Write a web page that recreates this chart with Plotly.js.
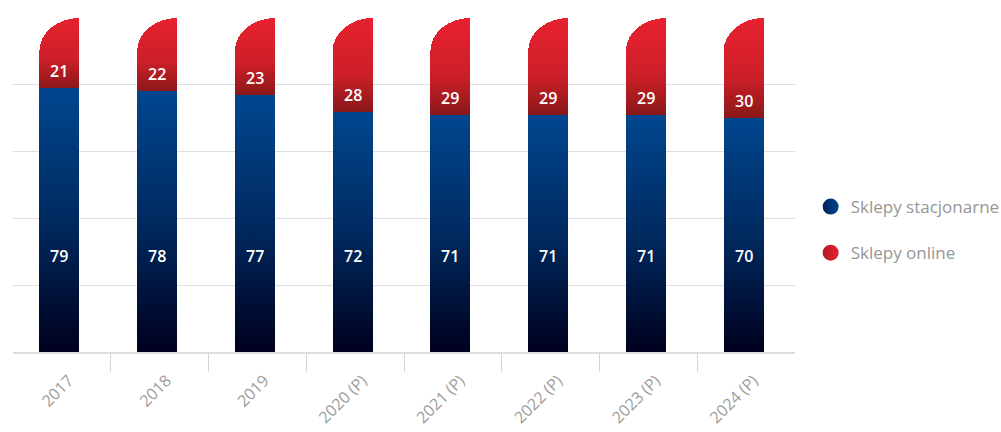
<!DOCTYPE html>
<html>
<head>
<meta charset="utf-8">
<script src="https://cdn.plot.ly/plotly-3.0.1.min.js"></script>
<style>
html,body{margin:0;padding:0;background:#fff;}
#chart{width:1001px;height:432px;}
</style>
</head>
<body>
<div id="chart"></div>
<script>
// ---- data ----
const categories = ["2017", "2018", "2019", "2020 (P)", "2021 (P)", "2022 (P)", "2023 (P)", "2024 (P)"];
const stationary = [79, 78, 77, 72, 71, 71, 71, 70];
const online = [21, 22, 23, 28, 29, 29, 29, 30];
const seriesNames = ["Sklepy stacjonarne", "Sklepy online"];

// ---- style ----
const BAR_W = 0.41, BAR_OFF = -0.23;
const labelFont = {family: "'Open Sans', sans-serif", size: 16, color: "#ffffff", weight: 600};
const BLUE_LABEL_Y = 28.7;

const traces = [
  {type: "bar", x: categories, y: stationary, name: seriesNames[0], showlegend: false,
   width: BAR_W, offset: BAR_OFF, marker: {color: "#00357a", line: {width: 0}}, hoverinfo: "skip"},
  {type: "bar", x: categories, y: online, name: seriesNames[1], showlegend: false,
   width: BAR_W, offset: BAR_OFF, marker: {color: "#c8202a", line: {width: 0}}, hoverinfo: "skip"},
  {type: "scatter", mode: "markers", x: [null], y: [null], name: seriesNames[0], legend: "legend",
   marker: {symbol: "circle", size: 16, color: "#00225a", gradient: {type: "horizontal", color: "#00468f"}}},
  {type: "scatter", mode: "markers", x: [null], y: [null], name: seriesNames[1], legend: "legend2",
   marker: {symbol: "circle", size: 16, color: "#b01b22", gradient: {type: "horizontal", color: "#e6212f"}}}
];

const xCenter = BAR_OFF + BAR_W / 2;
const annotations = [];
categories.forEach((c, i) => {
  annotations.push({x: i + xCenter, y: BLUE_LABEL_Y, text: String(stationary[i]), showarrow: false,
    font: labelFont, yanchor: "middle"});
  annotations.push({x: i + xCenter, y: stationary[i], text: String(online[i]), showarrow: false,
    yshift: 4, font: labelFont, yanchor: "bottom"});
});

const legendFont = {family: "'Open Sans', sans-serif", size: 17, color: "#969696"};
const layout = {
  width: 1001, height: 432,
  margin: {l: 13, r: 206, t: 18, b: 80, pad: 0, autoexpand: false},
  paper_bgcolor: "#ffffff", plot_bgcolor: "#ffffff",
  barmode: "stack",
  xaxis: {
    type: "category", range: [-0.5, 7.5],
    showline: true, linecolor: "#dcdcdc", linewidth: 2,
    ticks: "outside", tickson: "boundaries", ticklen: 18, tickcolor: "#d6d6d6", tickwidth: 1,
    tickangle: -45, showgrid: false, zeroline: false, automargin: false,
    ticklabelstandoff: 11, ticklabelshift: 7,
    tickfont: {family: "'Open Sans', sans-serif", size: 16, color: "#9c9c9c"}
  },
  yaxis: {
    range: [0, 100], dtick: 20, showticklabels: false, showgrid: true, automargin: false,
    gridcolor: "#dedede", gridwidth: 1, zeroline: false, showline: false, ticks: ""
  },
  legend: {x: 1.02, xanchor: "left", y: 0.434, yanchor: "middle", font: legendFont, bgcolor: "rgba(0,0,0,0)"},
  legend2: {x: 1.02, xanchor: "left", y: 0.296, yanchor: "middle", font: legendFont, bgcolor: "rgba(0,0,0,0)"},
  annotations: annotations,
  showlegend: true
};

Plotly.newPlot("chart", traces, layout, {staticPlot: true, displayModeBar: false}).then(gd => {
  const svgNS = "http://www.w3.org/2000/svg";
  const svg = gd.querySelector(".main-svg");
  let defs = svg.querySelector("defs");
  if (!defs) { defs = document.createElementNS(svgNS, "defs"); svg.insertBefore(defs, svg.firstChild); }
  function grad(id, stops) {
    const g = document.createElementNS(svgNS, "linearGradient");
    g.setAttribute("id", id);
    g.setAttribute("x1", "0"); g.setAttribute("y1", "0");
    g.setAttribute("x2", "0"); g.setAttribute("y2", "1");
    stops.forEach(([o, c]) => {
      const s = document.createElementNS(svgNS, "stop");
      s.setAttribute("offset", o); s.setAttribute("stop-color", c);
      g.appendChild(s);
    });
    defs.appendChild(g);
  }
  grad("gradBlue", [["0", "#00468f"], ["0.5", "#002a60"], ["1", "#00001e"]]);
  grad("gradRed", [["0", "#e8212f"], ["0.6", "#cc1f29"], ["1", "#8a1818"]]);
  const traceGroups = gd.querySelectorAll(".barlayer .trace");
  traceGroups.forEach((tg, ti) => {
    tg.querySelectorAll("path").forEach(p => {
      if (ti === 0) {
        p.style.fill = "url(#gradBlue)";
      } else {
        p.style.fill = "url(#gradRed)";
        const b = p.getBBox();
        const x0 = b.x, x1 = b.x + b.width, y0 = b.y, y1 = b.y + b.height;
        const ry = 33;
        p.setAttribute("d", `M${x0},${y1}V${y0 + ry}A${b.width},${ry} 0 0 1 ${x1},${y0}V${y1}Z`);
      }
    });
  });
  // hide the boundary ticks at the two ends of the axis (not present in the reference)
  const ticks = gd.querySelectorAll("path.xtick");
  if (ticks.length > 2) {
    ticks[0].style.display = "none";
    ticks[ticks.length - 1].style.display = "none";
  }
});
</script>
</body>
</html>
